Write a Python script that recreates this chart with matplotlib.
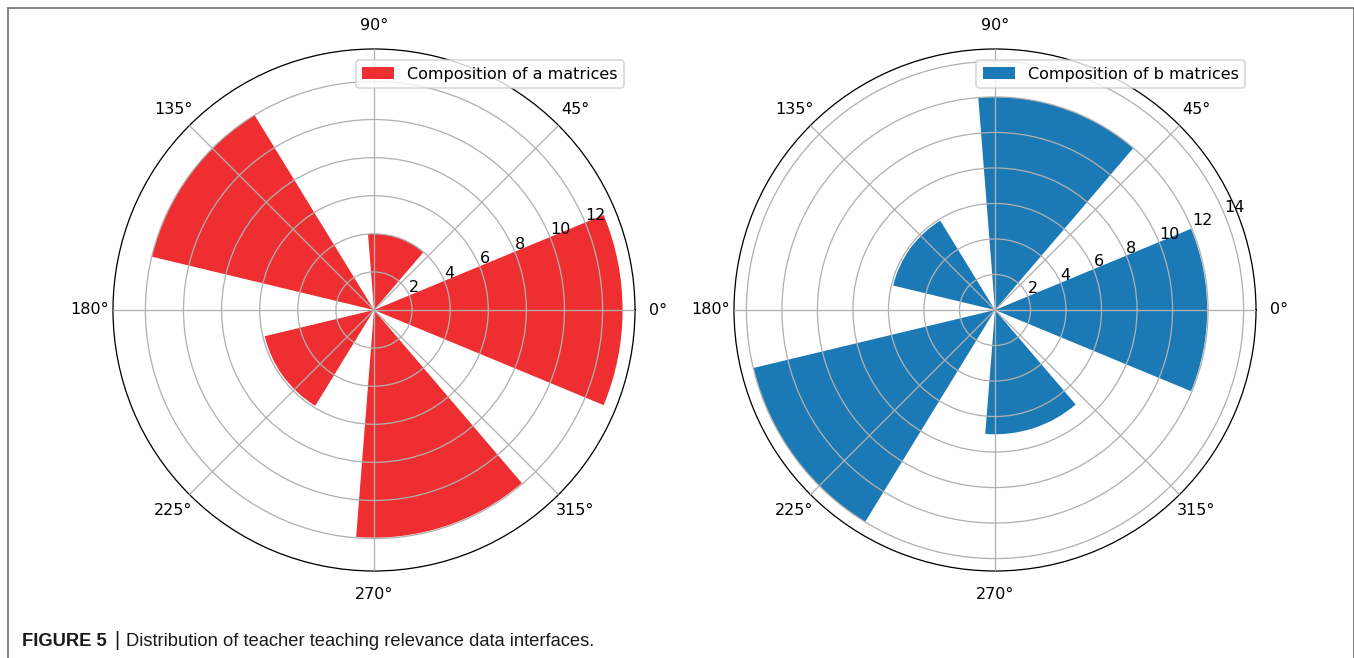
import numpy as np
import matplotlib
matplotlib.use("Agg")
import matplotlib.pyplot as plt
from matplotlib import font_manager
from matplotlib.patches import Rectangle

# bar angles (deg) and widths (deg)
ANGLES = [0, 72, 144, 216, 288]
WIDTHS = [45, 45, 45, 45, 45]

# bar heights
A_VALUES = [13.05, 4.0, 12.0, 5.9, 11.95]
B_VALUES = [11.95, 12.0, 5.9, 14.0, 7.0]

A_LABEL = "Composition of a matrices"
B_LABEL = "Composition of b matrices"
A_COLOR = "#ee2e30"
B_COLOR = "#1b7ab5"

CAPTION_BOLD = "FIGURE 5"
CAPTION_TEXT = "Distribution of teacher teaching relevance data interfaces."

DPI = 115
W, H = 1354, 658
fig = plt.figure(figsize=(W / DPI, H / DPI), dpi=DPI)

theta = np.deg2rad(ANGLES)
width = np.deg2rad(WIDTHS)

# axes placed in pixels: left/right centres, radius 261
R = 261
for cx, vals, lab, col in [(374, A_VALUES, A_LABEL, A_COLOR),
                           (995, B_VALUES, B_LABEL, B_COLOR)]:
    ax = fig.add_axes([(cx - R) / W, (H - 310 - R) / H, 2 * R / W, 2 * R / H],
                      projection="polar")
    ax.bar(theta, vals, width=width, color=col, label=lab)
    ax.grid(True, color="#b0b0b0", linewidth=0.8)
    ax.set_axisbelow(False)
    ax.tick_params(axis="x", pad=4)
    ax.legend(loc="upper right", borderaxespad=0.7)

# caption, condensed font if there is one
have = {f.name for f in font_manager.fontManager.ttflist}
cap_font = "Liberation Sans Narrow" if "Liberation Sans Narrow" in have else "Liberation Sans"
fam = [cap_font, "DejaVu Sans"]

fig.canvas.draw()
rend = fig.canvas.get_renderer()
cap_y = 1 - 641 / H
t1 = fig.text(22 / W, cap_y, CAPTION_BOLD, fontsize=11.5, fontweight="bold",
              family=fam, va="center", color="#1a1a1a")
bb = t1.get_window_extent(rend)
t2 = fig.text((bb.x1 + 7) / W, cap_y, "|", fontsize=12.5, family=fam,
              va="center", color="#1a1a1a")
bb2 = t2.get_window_extent(rend)
fig.text((bb2.x1 + 7) / W, cap_y, CAPTION_TEXT, fontsize=11.5, family=fam,
         va="center", color="#1a1a1a")

# grey frame round the figure
fig.patches.append(Rectangle((7.5 / W, -0.02), (W - 8) / W, 1 - 7.5 / H + 0.02,
                             transform=fig.transFigure, fill=False,
                             edgecolor="#808080", linewidth=1.2))

fig.savefig("out.png", dpi=DPI)
